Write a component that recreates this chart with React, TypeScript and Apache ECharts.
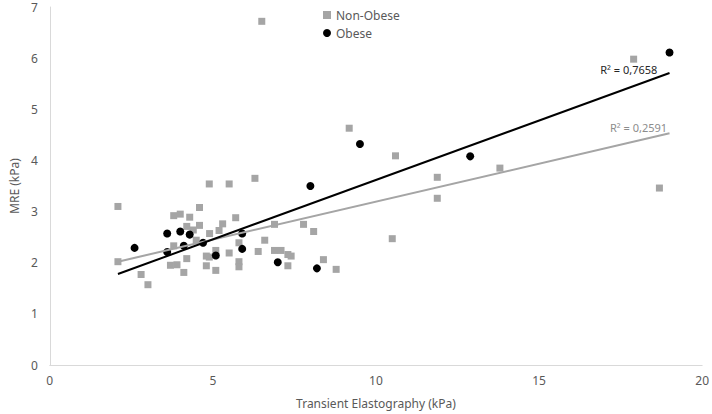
import React, { useEffect, useRef } from "react";
import * as echarts from "echarts";

const nonObeseX = [2.09, 2.09, 2.8, 3.01, 3.8, 4.0, 4.29, 4.59, 4.89, 4.2, 4.4, 4.59, 4.49, 3.8, 4.2, 3.7, 3.9, 4.11, 4.8, 4.8, 5.09, 5.09, 4.9, 5.5, 6.29, 5.7, 5.3, 5.19, 6.89, 7.78, 8.09, 6.59, 5.8, 5.5, 6.39, 6.89, 7.09, 7.3, 7.4, 5.8, 5.8, 7.3, 8.39, 8.78, 10.6, 11.88, 11.88, 13.8, 10.5, 6.5, 9.18, 17.9, 18.69, 4.89];
const nonObeseY = [3.1, 2.02, 1.77, 1.57, 2.92, 2.95, 2.89, 3.08, 3.54, 2.71, 2.64, 2.73, 2.44, 2.33, 2.08, 1.95, 1.96, 1.81, 2.13, 1.94, 1.85, 2.24, 2.57, 3.54, 3.65, 2.88, 2.76, 2.63, 2.75, 2.75, 2.61, 2.44, 2.39, 2.19, 2.22, 2.24, 2.24, 2.16, 2.13, 2.02, 1.92, 1.94, 2.06, 1.87, 4.09, 3.67, 3.26, 3.85, 2.47, 6.72, 4.63, 5.98, 3.46, 2.11];

const obeseX = [2.6, 3.6, 4.0, 4.29, 3.6, 4.11, 4.7, 5.09, 5.9, 5.9, 6.99, 8.19, 7.99, 9.51, 12.89, 19.0];
const obeseY = [2.29, 2.57, 2.61, 2.55, 2.21, 2.33, 2.39, 2.14, 2.57, 2.27, 2.01, 1.89, 3.5, 4.32, 4.08, 6.11];

// trend lines: [slope, intercept], x range
const obeseTrend = [0.2324, 1.294];
const nonObeseTrend = [0.1484, 1.71];
const trendRange = [2.09, 19.0];
const obeseR2 = "R² = 0,7658";
const nonObeseR2 = "R² = 0,2591";
const obeseR2Pos = [17.75, 5.78];
const nonObeseR2Pos = [18.05, 4.64];

const xTicks = [0, 5, 10, 15, 20];
const yTicks = [0, 1, 2, 3, 4, 5, 6, 7];

const FONT = "'Noto Sans', sans-serif";
const TXT = "#595959";

export default function App() {
  const ref = useRef<HTMLDivElement>(null);
  useEffect(() => {
    if (!ref.current) return;
    const chart = echarts.init(ref.current, null, { renderer: "svg" });
    const line = (t: number[]) => trendRange.map((x) => [x, t[0] * x + t[1]]);
    chart.setOption({
      animation: false,
      textStyle: { fontFamily: FONT },
      grid: { left: 48, right: 8, top: 7, bottom: 47, containLabel: false },
      legend: {
        orient: "vertical",
        top: 4,
        left: 318,
        itemWidth: 8,
        itemHeight: 8,
        itemGap: 6,
        textStyle: { color: TXT, fontSize: 12, fontFamily: FONT },
        data: [
          { name: "Non-Obese", icon: "rect" },
          { name: "Obese", icon: "circle" },
        ],
      },
      xAxis: {
        type: "value",
        min: xTicks[0],
        max: xTicks[xTicks.length - 1],
        interval: 5,
        name: "Transient Elastography (kPa)",
        nameLocation: "middle",
        nameGap: 32,
        nameTextStyle: { color: TXT, fontSize: 12 },
        axisLine: { show: true, lineStyle: { color: "#d9d9d9" } },
        axisTick: { show: false },
        splitLine: { show: false },
        axisLabel: { color: TXT, fontSize: 12, margin: 9 },
      },
      yAxis: {
        type: "value",
        min: yTicks[0],
        max: yTicks[yTicks.length - 1],
        interval: 1,
        name: "MRE (kPa)",
        nameLocation: "middle",
        nameGap: 27,
        nameTextStyle: { color: TXT, fontSize: 12 },
        axisLine: { show: true, lineStyle: { color: "#d9d9d9" } },
        axisTick: { show: false },
        splitLine: { show: false },
        axisLabel: { color: TXT, fontSize: 12, margin: 12 },
      },
      series: [
        {
          name: "Non-Obese",
          type: "scatter",
          symbol: "rect",
          symbolSize: 7,
          itemStyle: { color: "#a5a5a5", opacity: 1 },
          data: nonObeseX.map((x, i) => [x, nonObeseY[i]]),
          z: 2,
        },
        {
          name: "Obese",
          type: "scatter",
          symbol: "circle",
          symbolSize: 8,
          itemStyle: { color: "#000000", opacity: 1 },
          data: obeseX.map((x, i) => [x, obeseY[i]]),
          z: 3,
        },
        {
          name: "nonObeseTrend",
          type: "line",
          data: line(nonObeseTrend),
          symbol: "none",
          lineStyle: { color: "#a5a5a5", width: 2 },
          z: 4,
          markPoint: {
            symbol: "circle",
            symbolSize: 0,
            data: [
              {
                coord: nonObeseR2Pos,
                label: {
                  show: true,
                  position: "inside",
                  formatter: nonObeseR2,
                  color: "#8c8c8c",
                  fontSize: 11,
                },
              },
            ],
          },
        },
        {
          name: "obeseTrend",
          type: "line",
          data: line(obeseTrend),
          symbol: "none",
          lineStyle: { color: "#000000", width: 2 },
          z: 5,
          markPoint: {
            symbol: "circle",
            symbolSize: 0,
            data: [
              {
                coord: obeseR2Pos,
                label: {
                  show: true,
                  position: "inside",
                  formatter: obeseR2,
                  color: "#262626",
                  fontSize: 11,
                },
              },
            ],
          },
        },
      ],
    });
    return () => chart.dispose();
  }, []);
  return <div ref={ref} style={{ width: 712, height: 414, position: "absolute", left: 0, top: 0 }} />;
}
